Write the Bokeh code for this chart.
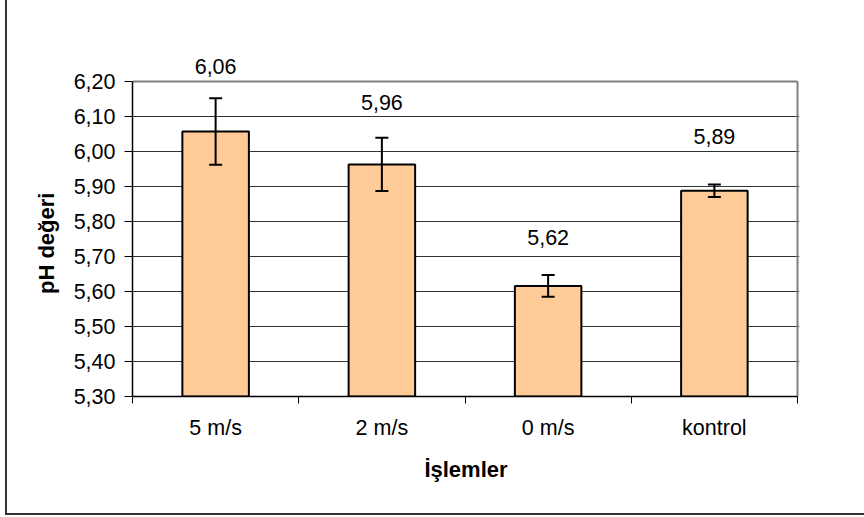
from bokeh.plotting import figure
from bokeh.models import (ColumnDataSource, FixedTicker, CustomJSTickFormatter, Whisker,
                          TeeHead, Range1d, LabelSet, InlineStyleSheet)
from bokeh.core.properties import value
from bokeh.embed import file_html
from bokeh.resources import INLINE

categories = ["5 m/s", "2 m/s", "0 m/s", "kontrol"]
ph_values = [6.057, 5.963, 5.616, 5.888]
ph_errors = [0.095, 0.076, 0.031, 0.018]
y_ticks = [5.30, 5.40, 5.50, 5.60, 5.70, 5.80, 5.90, 6.00, 6.10, 6.20]
label_offsets = [58, 54, 41, 47]

FONT = "Liberation Sans"
n = len(categories)
y0, y1 = y_ticks[0], y_ticks[-1]
head_room = 0.08   # extra range above the plot area so the top value label is drawn
side_room = 0.012

xs = [i + 0.5 for i in range(n)]
src = ColumnDataSource(dict(
    x=xs, top=ph_values,
    upper=[v + e for v, e in zip(ph_values, ph_errors)],
    lower=[v - e for v, e in zip(ph_values, ph_errors)],
    label=[f"{v:.2f}".replace(".", ",") for v in ph_values],
    off=label_offsets,
))

p = figure(width=864, height=517, output_backend="svg", toolbar_location=None,
           x_range=Range1d(0, n + side_room), y_range=Range1d(y0, y1 + head_room),
           min_border_left=132, min_border_right=65, min_border_top=53, min_border_bottom=121)
p.background_fill_color = "white"
p.border_fill_color = "white"
p.outline_line_color = None

# grid
p.xgrid.grid_line_color = None
p.ygrid.grid_line_color = "#333333"
p.ygrid.grid_line_width = 1
p.ygrid.ticker = FixedTicker(ticks=y_ticks[1:-1])

# plot-area border (top and right)
p.segment(x0=[0, n], y0=[y1, y0], x1=[n, n], y1=[y1, y1],
          line_color="#808080", line_width=2)

# bars
p.vbar(x="x", top="top", bottom=y0, width=0.4, source=src,
       fill_color="#FFCC99", line_color="black", line_width=2)

# error bars
w = Whisker(base="x", upper="upper", lower="lower", source=src,
            line_color="black", line_width=2, level="annotation",
            upper_head=TeeHead(size=13, line_color="black", line_width=2),
            lower_head=TeeHead(size=13, line_color="black", line_width=2))
p.add_layout(w)

# value labels
labels = LabelSet(x="x", y="top", text="label", source=src, y_offset="off",
                  text_align="center", text_baseline="alphabetic",
                  text_font=value(FONT), text_font_size="21.5px", text_color="black")
p.add_layout(labels)

# y axis
p.yaxis.bounds = (y0, y1)
p.yaxis.ticker = FixedTicker(ticks=y_ticks)
p.yaxis.formatter = CustomJSTickFormatter(code="return tick.toFixed(2).replace('.', ',');")
p.yaxis.axis_line_color = "black"
p.yaxis.axis_line_width = 1.5
p.yaxis.major_tick_line_color = "black"
p.yaxis.major_tick_out = 8
p.yaxis.major_tick_in = 0
p.yaxis.minor_tick_line_color = None
p.yaxis.major_label_text_font = FONT
p.yaxis.major_label_text_font_size = "21.5px"
p.yaxis.major_label_text_color = "black"
p.yaxis.major_label_standoff = 9
# trailing no-break spaces keep the title centred on the plot area, not on the extended frame
p.yaxis.axis_label = "pH değeri" + "\u00a0" * 6
p.yaxis.axis_label_text_font = FONT
p.yaxis.axis_label_text_font_size = "22px"
p.yaxis.axis_label_text_font_style = "bold"
p.yaxis.axis_label_text_color = "black"
p.yaxis.axis_label_standoff = 12

# x axis
p.xaxis.bounds = (0, n)
p.xaxis.ticker = FixedTicker(ticks=xs, minor_ticks=list(range(n + 1)))
p.xaxis.major_label_overrides = {x: c for x, c in zip(xs, categories)}
p.xaxis.axis_line_color = "black"
p.xaxis.axis_line_width = 1.5
p.xaxis.major_tick_out = 0
p.xaxis.major_tick_in = 0
p.xaxis.minor_tick_out = 7
p.xaxis.minor_tick_in = 0
p.xaxis.minor_tick_line_color = "black"
p.xaxis.major_label_text_font = FONT
p.xaxis.major_label_text_font_size = "21.5px"
p.xaxis.major_label_text_color = "black"
p.xaxis.major_label_standoff = 12
p.xaxis.axis_label = "İşlemler"
p.xaxis.axis_label_text_font = FONT
p.xaxis.axis_label_text_font_size = "22px"
p.xaxis.axis_label_text_font_style = "bold"
p.xaxis.axis_label_text_color = "black"
p.xaxis.axis_label_standoff = 14

# outer chart border (left and bottom edges visible in the reference)
p.stylesheets = [InlineStyleSheet(css=(
    ":host::after { content: ''; position: absolute; left: 5px; top: 0; right: 0; "
    "bottom: 2px; border-left: 2px solid #333; border-bottom: 2px solid #333; "
    "pointer-events: none; }"
))]

open("out.html", "w").write(file_html(p, INLINE))
